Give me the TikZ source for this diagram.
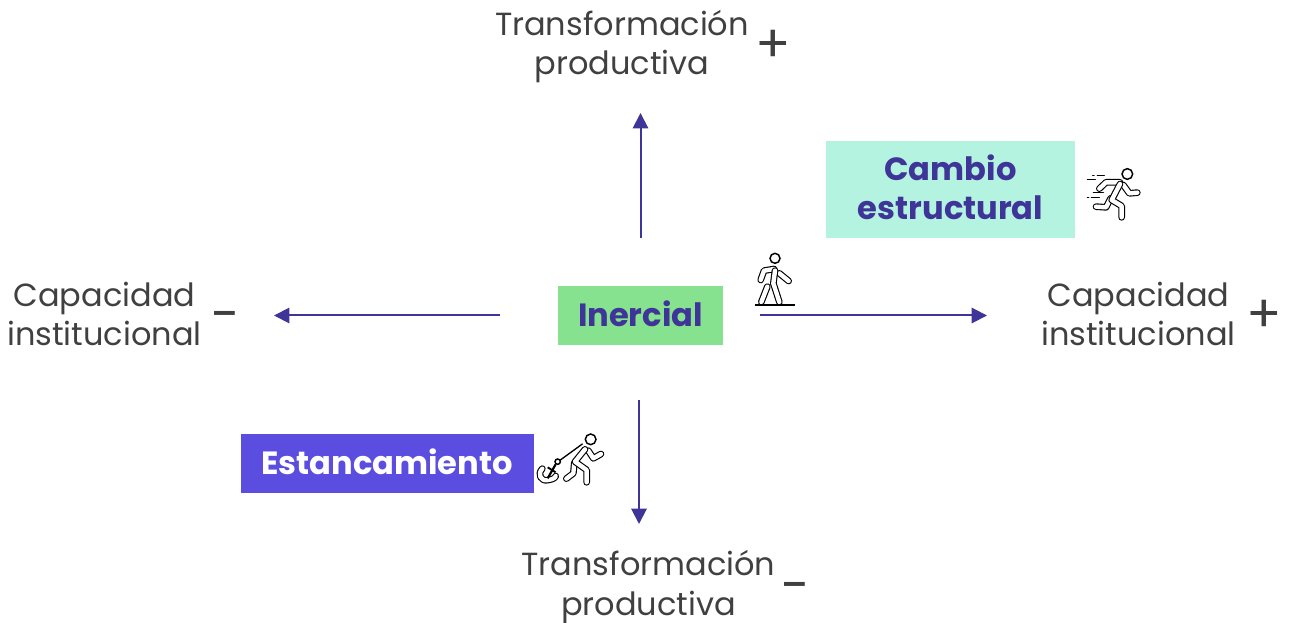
\documentclass[tikz,border=0pt]{standalone}
\usepackage{fontspec}
\setmainfont{Poppins}
\usetikzlibrary{arrows.meta}
\definecolor{axisc}{HTML}{3F3598}
\definecolor{txtc}{HTML}{404040}
\definecolor{mintc}{HTML}{B3F3DF}
\definecolor{greenc}{HTML}{86E28F}
\definecolor{violetc}{HTML}{5B4DE0}
\tikzset{
 lab/.style={text=txtc,font=\fontsize{24}{29.3}\selectfont,align=center,inner sep=0,anchor=center},
 sign/.style={text=txtc,font=\fontsize{39}{39}\selectfont,inner sep=0,anchor=center},
 axis/.style={draw=axisc,line width=1.5pt,-{Triangle[length=11.5pt,width=11.5pt]}},
 boxtxt/.style={font=\fontsize{24.1}{29.3}\selectfont\bfseries,align=center,inner sep=0,anchor=center},
 limb/.style={line width=5pt,draw=black,line cap=round,line join=round},
 limbin/.style={line width=3.3pt,draw=white,line cap=round,line join=round},
 thin line/.style={line width=1pt,draw=black,line cap=round},
}
\newcommand{\hollow}[1]{\draw[limb] #1; \draw[limbin] #1;}
\begin{document}
\begin{tikzpicture}[x=0.75pt,y=-0.75pt]
\useasboundingbox (0,0) rectangle (1291,623);
% boxes
\fill[mintc] (826,141) rectangle (1075,238);
\fill[greenc] (558,286) rectangle (723,345);
\fill[violetc] (241,434) rectangle (534,493);
\node[boxtxt,text=axisc] (cambio) at (950.5,187) {Cambio\\estructural};
\node[boxtxt,text=axisc] (inercial) at (640.5,314) {Inercial};
\node[boxtxt,text=white] (estanc) at (387,462) {Estancamiento};
% labels
\node[lab] (tpup) at (622,47) {Transformación\\productiva};
\node[sign] (pu) at (773,46) {+};
\node[lab] (tpdown) at (648.5,587) {Transformación\\productiva};
\node[sign] (md) at (795.5,593) {-};
\node[lab] (cileft) at (104.5,314) {Capacidad\\institucional};
\node[sign] (ml) at (226,322) {-};
\node[lab] (ciright) at (1138.5,314) {Capacidad\\institucional};
\node[sign] (pr) at (1264,316) {+};
% axes
\coordinate (cu) at (640.5,238); \coordinate (eu) at (640.5,113);
\coordinate (cd) at (639,400); \coordinate (ed) at (639,524);
\coordinate (cl) at (500,315.5); \coordinate (el) at (274,315.5);
\coordinate (cr) at (760,315.5); \coordinate (er) at (987,315.5);
\draw[axis] (cu) -- (eu);
\draw[axis] (cd) -- (ed);
\draw[axis] (cl) -- (el);
\draw[axis] (cr) -- (er);
% runner
\begin{scope}[shift={(1070,150)},scale=0.3333]
 \draw[line width=1.1pt] (172,72) circle (16);
 \hollow{(122,145) -- (108,172) -- (78,170)}
 \hollow{(160,105) -- (178,130) -- (202,128)}
 \hollow{(150,97) -- (108,97) -- (88,116)}
 \hollow{(150,102) -- (125,150) -- (155,168) -- (155,202)}
 \draw[thin line] (68,76) -- (72,76) (82,76) -- (103,76);
 \draw[thin line] (52,89) -- (76,89);
 \draw[thin line] (70,128) -- (100,128);
 \draw[thin line] (52,143) -- (56,143) (64,143) -- (88,143);
\end{scope}
% walker
\begin{scope}[shift={(740,240)},scale=0.3333]
 \draw[line width=1.1pt] (105,55) circle (15);
 \hollow{(82,140) -- (64,186)}
 \hollow{(118,100) -- (146,123)}
 \hollow{(102,87) -- (72,92) -- (62,120)}
 \hollow{(105,92) -- (100,130) -- (118,186)}
 \draw[line width=1pt] (45,195) -- (165,195);
\end{scope}
% anchor puller
\begin{scope}[shift={(525,420)},scale=0.3333]
 \draw[line width=1.1pt] (197,58) circle (16);
 \draw[thin line] (172,72) -- (106,120);
 \draw[line width=1.1pt] (98,125) circle (8);
 \hollow{(52,146) .. controls (36,162) and (47,186) .. (70,180) .. controls (85,178) and (92,172) .. (92,168)}
 \draw[line width=1.6pt] (92,133) -- (68,175);
 \draw[line width=1.4pt] (68,142) -- (92,157);
 \hollow{(148,128) -- (145,160) -- (124,176)}
 \hollow{(190,92) -- (205,115) -- (228,102)}
 \hollow{(180,88) -- (150,125) -- (185,150) -- (185,187)}
\end{scope}
\end{tikzpicture}
\end{document}
